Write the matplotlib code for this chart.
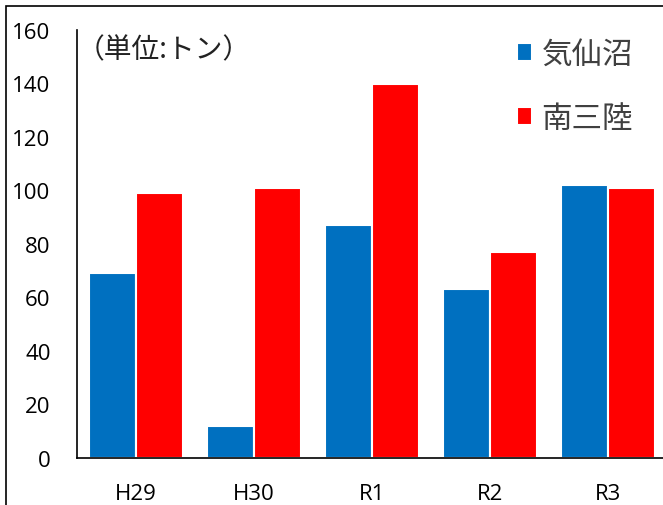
import matplotlib.pyplot as plt
import numpy as np
from matplotlib.patches import Rectangle

plt.rcParams['font.family'] = ['Open Sans', 'Noto Sans CJK JP', 'DejaVu Sans']

years = ["H29", "H30", "R1", "R2", "R3"]
kesennuma = [69, 12, 87, 63, 102]
minamisanriku = [99, 101, 140, 77, 101]
series_names = ["気仙沼", "南三陸"]
unit_label = "（単位:トン）"

fig = plt.figure(figsize=(6.63, 5.06), dpi=100)
ax = fig.add_axes([77 / 663, 1 - 459 / 506, 590 / 663, 428 / 506])

x = np.arange(len(years))
w = 0.4
ax.bar(x - w / 2, kesennuma, width=w, color="#0070C0", edgecolor="white", linewidth=1.5, label=series_names[0])
ax.bar(x + w / 2, minamisanriku, width=w, color="#FF0000", edgecolor="white", linewidth=1.5, label=series_names[1])

ax.set_xlim(-0.5, len(years) - 0.5)
ax.set_ylim(0, 160)
ax.set_yticks(range(0, 161, 20))
ax.set_xticks(x)
ax.set_xticklabels(years)
ax.tick_params(axis="both", length=0, labelsize=16, colors="black")
ax.tick_params(axis="y", pad=19)
ax.tick_params(axis="x", pad=18)
for s in ["top", "right"]:
    ax.spines[s].set_visible(False)
ax.spines["left"].set_linewidth(1.2)
ax.spines["bottom"].set_linewidth(1.2)

ax.text(0.0, 0.956, unit_label, transform=ax.transAxes, fontsize=20,
        family=['Noto Sans CJK JP'], va="center", ha="left", color="#222222")

leg = ax.legend(loc="upper left", bbox_to_anchor=(489 / 663, 1 - 12 / 506),
                bbox_transform=fig.transFigure, frameon=False,
                handlelength=0.52, handleheight=0.52, handletextpad=0.3,
                labelspacing=1.1, prop={'family': ['Noto Sans CJK JP'], 'size': 22})
for t in leg.get_texts():
    t.set_color("#404040")

# outer border of the chart area
fig.patches.append(Rectangle((6 / 663, -0.1), 1.2, 1 - 7 / 506 + 0.1, transform=fig.transFigure,
                             fill=False, edgecolor="black", linewidth=1.2))

fig.savefig("out.png", dpi=100)
